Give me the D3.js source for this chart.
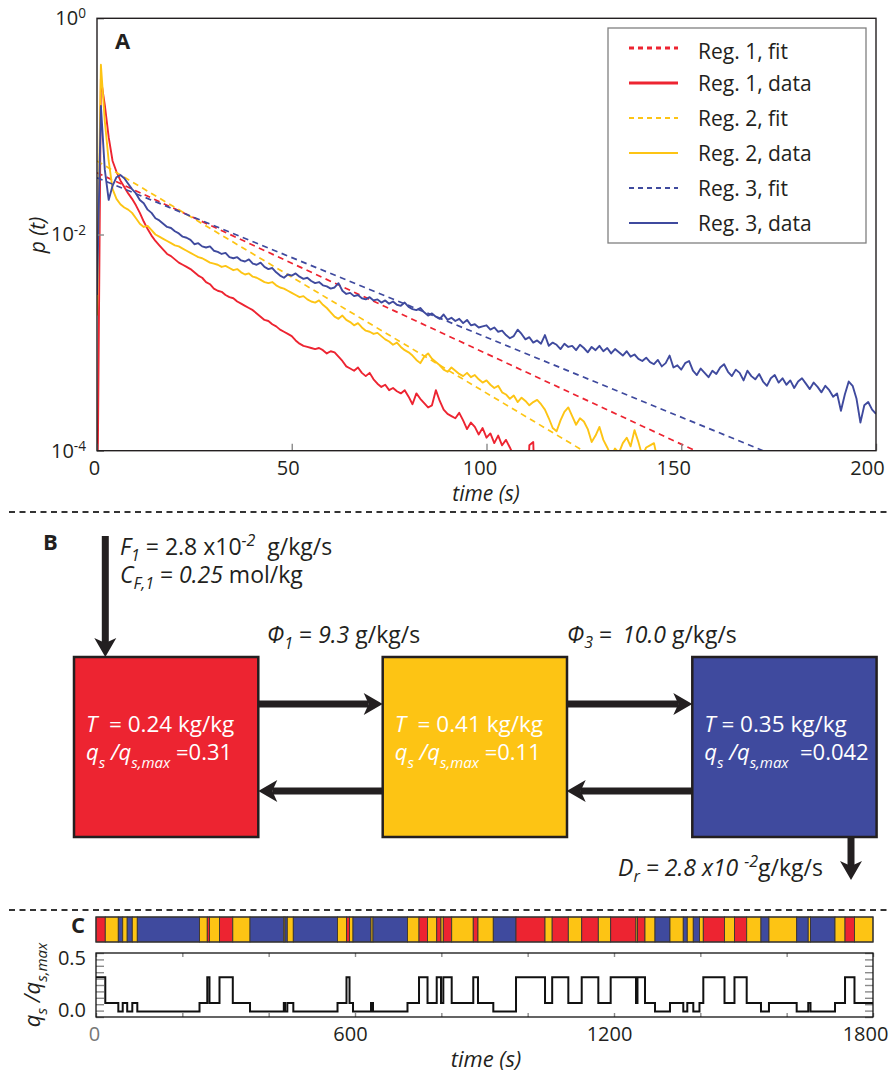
<!DOCTYPE html>
<html><head><meta charset="utf-8">
<script src="https://cdn.jsdelivr.net/npm/d3@7"></script>
<style>
body{margin:0;background:#fff}
svg{display:block}
text{font-family:'Open Sans',sans-serif}
</style></head>
<body><svg id="c" width="891" height="1078"></svg>
<script>
// ---------------- DATA ----------------
// Panel A: log10 p(t), sampled every 1 s starting at t = 0
const redLog = [-5,-0.56,-0.80,-1.10,-1.32,-1.42,-1.50,-1.56,-1.62,-1.67,
-1.73,-1.80,-1.88,-1.95,-2.01,-2.06,-2.10,-2.14,-2.18,-2.20,
-2.23,-2.26,-2.28,-2.30,-2.32,-2.35,-2.38,-2.40,-2.44,-2.46,
-2.50,-2.52,-2.53,-2.56,-2.58,-2.59,-2.62,-2.64,-2.66,-2.68,
-2.70,-2.73,-2.76,-2.79,-2.80,-2.83,-2.85,-2.88,-2.90,-2.92,
-2.94,-2.98,-3.01,-3.03,-3.04,-3.05,-3.06,-3.05,-3.07,-3.10,
-3.08,-3.09,-3.13,-3.17,-3.22,-3.24,-3.26,-3.23,-3.28,-3.31,
-3.28,-3.34,-3.38,-3.41,-3.39,-3.44,-3.42,-3.45,-3.47,-3.44,
-3.50,-3.57,-3.47,-3.52,-3.56,-3.60,-3.58,-3.44,-3.54,-3.62,
-3.66,-3.68,-3.70,-3.65,-3.72,-3.80,-3.74,-3.78,-3.85,-3.79,
-3.88,-3.84,-3.93,-3.86,-3.95,-3.90,-3.97,-4.05,-4.3,-5,
-5,-3.95,-3.92,-5];
const yellowLog = [-2.75,-0.43,-0.95,-1.32,-1.58,-1.67,-1.72,-1.75,-1.77,-1.80,
-1.85,-1.90,-1.93,-1.92,-1.96,-2.00,-2.02,-2.04,-2.06,-2.08,
-2.10,-2.11,-2.13,-2.15,-2.17,-2.19,-2.21,-2.22,-2.24,-2.26,
-2.27,-2.28,-2.30,-2.29,-2.31,-2.33,-2.32,-2.35,-2.37,-2.36,
-2.39,-2.40,-2.42,-2.44,-2.45,-2.44,-2.47,-2.49,-2.50,-2.52,
-2.54,-2.56,-2.58,-2.57,-2.60,-2.62,-2.63,-2.61,-2.65,-2.68,
-2.72,-2.76,-2.78,-2.75,-2.79,-2.81,-2.84,-2.82,-2.86,-2.89,
-2.90,-2.92,-2.91,-2.94,-2.97,-2.99,-3.02,-3.00,-3.04,-3.07,
-3.09,-3.12,-3.16,-3.19,-3.13,-3.10,-3.15,-3.18,-3.21,-3.25,
-3.27,-3.23,-3.26,-3.29,-3.31,-3.28,-3.32,-3.30,-3.34,-3.37,
-3.35,-3.39,-3.42,-3.40,-3.46,-3.48,-3.52,-3.49,-3.55,-3.51,
-3.54,-3.58,-3.55,-3.53,-3.57,-3.62,-3.70,-3.79,-3.82,-3.72,
-3.64,-3.60,-3.68,-3.76,-3.70,-3.73,-3.80,-3.92,-3.86,-3.78,
-3.90,-3.97,-4.05,-3.98,-4.02,-3.93,-3.88,-3.96,-3.81,-3.92,
-4.05,-3.97,-3.95,-3.93,-4.1,-5];
const blueLog = [-2.56,-0.81,-1.40,-1.68,-1.55,-1.47,-1.45,-1.48,-1.53,-1.58,
-1.62,-1.68,-1.71,-1.77,-1.80,-1.85,-1.87,-1.90,-1.93,-1.94,
-1.97,-1.99,-2.02,-2.03,-2.05,-2.09,-2.08,-2.11,-2.12,-2.11,
-2.15,-2.16,-2.18,-2.17,-2.21,-2.22,-2.21,-2.24,-2.25,-2.23,
-2.27,-2.28,-2.26,-2.30,-2.32,-2.31,-2.35,-2.38,-2.40,-2.37,
-2.38,-2.36,-2.39,-2.41,-2.40,-2.43,-2.45,-2.44,-2.47,-2.48,
-2.50,-2.49,-2.45,-2.52,-2.55,-2.54,-2.57,-2.56,-2.59,-2.60,
-2.58,-2.61,-2.60,-2.63,-2.61,-2.64,-2.62,-2.65,-2.66,-2.63,
-2.67,-2.69,-2.70,-2.68,-2.72,-2.75,-2.73,-2.76,-2.78,-2.74,
-2.79,-2.77,-2.80,-2.78,-2.82,-2.79,-2.84,-2.83,-2.86,-2.85,
-2.84,-2.88,-2.86,-2.90,-2.89,-2.93,-2.96,-2.94,-2.88,-2.92,
-2.97,-2.95,-3.00,-2.98,-3.01,-2.93,-3.03,-3.00,-3.02,-3.06,
-3.01,-3.04,-3.03,-3.07,-3.02,-3.05,-3.09,-3.04,-3.07,-3.03,
-3.08,-3.05,-3.10,-3.06,-3.09,-3.12,-3.08,-3.13,-3.11,-3.15,
-3.17,-3.14,-3.18,-3.20,-3.16,-3.22,-3.19,-3.12,-3.23,-3.21,
-3.25,-3.19,-3.17,-3.26,-3.30,-3.24,-3.28,-3.32,-3.26,-3.29,
-3.23,-3.20,-3.27,-3.31,-3.25,-3.28,-3.35,-3.26,-3.31,-3.34,
-3.29,-3.36,-3.40,-3.33,-3.30,-3.37,-3.33,-3.39,-3.35,-3.42,
-3.36,-3.33,-3.38,-3.43,-3.37,-3.41,-3.46,-3.40,-3.44,-3.50,
-3.47,-3.63,-3.48,-3.36,-3.40,-3.52,-3.74,-3.58,-3.55,-3.62,
-3.66];
// exponential fits: [time, p] end points
const fitRed = [[0, 0.0373], [153.6, 1e-4]];
const fitYellow = [[0, 0.0479], [124.8, 1e-4]];
const fitBlue = [[0, 0.0335], [171, 1e-4]];
const legendLabels = ["Reg. 1, fit","Reg. 1, data","Reg. 2, fit","Reg. 2, data","Reg. 3, fit","Reg. 3, data"];
const xTicksA = [0, 50, 100, 150, 200];
const yTicksA = [1, 1e-2, 1e-4];

// Panel B
const boxT = ["0.24", "0.41", "0.35"];
const boxQ = ["0.31", "0.11", "0.042"];

// Panel C: regime sequence (start time in s, regime id)
const regimeStart = [0,21.5,51.7,61.9,72.3,84.1,95.7,239.8,257.8,262.9,286.1,316.9,356.8,435.1,437.8,443.2,457.1,559.5,580.3,587.3,595.4,637.1,641.7,721.6,748.3,768,789.3,799.2,804.6,824,874,884.9,920.4,973,1040.2,1056.8,1094.2,1125.2,1163.7,1192.3,1251,1254.4,1271.8,1295,1329.7,1360.5,1369.8,1383.7,1398,1406.9,1456,1479.1,1507.4,1540.5,1559,1623.2,1650,1655.2,1712,1735.2,1757.1];
const regimeId = [1,2,3,2,3,2,3,2,1,2,1,2,3,2,3,2,3,2,1,2,3,2,3,2,1,2,1,2,1,2,1,2,3,1,2,1,2,1,2,1,2,1,2,3,2,3,2,3,2,1,2,1,2,3,2,3,2,3,2,1,2];
const regimeQ = {1: 0.31, 2: 0.11, 3: 0.042};
const xTicksC = [0,200,400,600,800,1000,1200,1400,1600,1800];
const xLabelsC = [0, 600, 1200, 1800];
const yTicksC = [0,0.05,0.1,0.15,0.2,0.25,0.3,0.35,0.4,0.45,0.5];

// ---------------- DRAW ----------------
const INK = "#231F20";
const COL = {1: "#ED2431", 2: "#FDC414", 3: "#3F4A9E"};
const svg = d3.select("#c");

function rich(parent, x, y, parts, opts = {}) {
  const t = parent.append("text").attr("x", x).attr("y", y)
    .attr("font-size", opts.size || 21).attr("fill", opts.fill || INK)
    .style("white-space", "pre");
  if (opts.anchor) t.attr("text-anchor", opts.anchor);
  if (opts.transform) t.attr("transform", opts.transform);
  let cur = 0;
  parts.forEach(p => {
    const s = t.append("tspan").text(p.t);
    const target = p.sub ? p.sub : (p.sup ? -p.sup : 0);
    if (target - cur !== 0) s.attr("dy", target - cur);
    cur = target;
    if (p.i) s.attr("font-style", "italic");
    if (p.fs) s.attr("font-size", p.fs);
    if (p.dx) s.attr("dx", p.dx);
  });
  return t;
}

function arrow(g, x1, y1, x2, y2, w = 7, hl = 19, hw = 22, notch = 5) {
  const L = Math.hypot(x2 - x1, y2 - y1);
  const ux = (x2 - x1) / L, uy = (y2 - y1) / L;
  const nx = -uy, ny = ux;
  const bx = x2 - ux * hl, by = y2 - uy * hl;
  g.append("line").attr("x1", x1).attr("y1", y1)
    .attr("x2", bx + ux * notch).attr("y2", by + uy * notch)
    .attr("stroke", INK).attr("stroke-width", w);
  g.append("path").attr("d",
    `M${x2},${y2}L${bx + nx * hw / 2},${by + ny * hw / 2}L${bx + ux * notch},${by + uy * notch}L${bx - nx * hw / 2},${by - ny * hw / 2}Z`)
    .attr("fill", INK);
}

// ===== Panel A =====
const xA = d3.scaleLinear().domain([0, 200]).range([97, 876]);
const yA = d3.scaleLog().domain([1e-4, 1]).range([450.7, 18.3]);
const gA = svg.append("g");
gA.append("clipPath").attr("id", "clipA").append("rect")
  .attr("x", 97).attr("y", 18.3).attr("width", 779).attr("height", 432.4);
const plotA = gA.append("g").attr("clip-path", "url(#clipA)");
const lineA = d3.line().x(d => xA(d[0])).y(d => yA(d[1]));
const series = [
  {fit: fitRed, data: redLog, c: COL[1]},
  {fit: fitYellow, data: yellowLog, c: COL[2]},
  {fit: fitBlue, data: blueLog, c: COL[3]}
];
series.forEach(s => {
  plotA.append("path").attr("d", lineA(s.fit)).attr("fill", "none")
    .attr("stroke", s.c).attr("stroke-width", 1.7).attr("stroke-dasharray", "6,4.5");
  plotA.append("path").attr("d", lineA(s.data.map((v, i) => [i, Math.pow(10, v)])))
    .attr("fill", "none").attr("stroke", s.c).attr("stroke-width", 1.9)
    .attr("stroke-linejoin", "round");
});

function styleAxis(g, size) {
  g.attr("font-family", null).attr("font-size", null);
  g.select(".domain").remove();
  g.selectAll(".tick line").attr("stroke", "#8a8a8a").attr("stroke-width", 1.4);
  g.selectAll(".tick text").attr("fill", INK).attr("font-size", size)
    .style("font-family", "'Open Sans',sans-serif");
}
const labelShiftA = {0: -3, 50: -4, 100: -7, 150: -8, 200: -9};
const axBA = gA.append("g").attr("transform", "translate(0,450.7)")
  .call(d3.axisBottom(xA).tickValues(xTicksA).tickSizeInner(-7).tickSizeOuter(0).tickPadding(10));
styleAxis(axBA, 20);
axBA.selectAll(".tick text").attr("dx", d => labelShiftA[d]);
const axLA = gA.append("g").attr("transform", "translate(97,0)")
  .call(d3.axisLeft(yA).tickValues(yTicksA).tickSizeInner(-7).tickSizeOuter(0).tickPadding(11).tickFormat(() => ""));
styleAxis(axLA, 20);
axLA.selectAll(".tick text").each(function(d) {
  const t = d3.select(this);
  t.append("tspan").text("10");
  t.append("tspan").attr("dy", "-0.5em").attr("font-size", "0.68em").text(String(Math.round(Math.log10(d))));
});
gA.append("rect").attr("x", 97).attr("y", 18.3).attr("width", 779).attr("height", 432.4)
  .attr("fill", "none").attr("stroke", INK).attr("stroke-width", 1.4);

gA.append("text").attr("x", 115).attr("y", 49).attr("font-size", 22).attr("font-weight", "bold")
  .attr("fill", INK).text("A");
gA.append("text").attr("transform", "translate(45,235) rotate(-90)").attr("text-anchor", "middle")
  .attr("font-size", 21).attr("font-style", "italic").attr("fill", INK).text("p (t)");
gA.append("text").attr("x", 486).attr("y", 501).attr("text-anchor", "middle")
  .attr("font-size", 21).attr("font-style", "italic").attr("fill", INK).text("time (s)");

// legend
const lg = gA.append("g");
lg.append("rect").attr("x", 608).attr("y", 28).attr("width", 258).attr("height", 215)
  .attr("fill", "#fff").attr("stroke", "#808080").attr("stroke-width", 1.3);
const legRowY = [48, 83, 118, 153, 188, 223];
const legTextY = [51.5, 83, 118, 153, 188, 223];
legendLabels.forEach((lab, i) => {
  const reg = Math.floor(i / 2) + 1;
  const dashed = i % 2 === 0;
  lg.append("line").attr("x1", 629).attr("x2", 678).attr("y1", legRowY[i]).attr("y2", legRowY[i])
    .attr("stroke", COL[reg]).attr("stroke-width", reg === 1 ? 3 : 2.2)
    .attr("stroke-dasharray", dashed ? "5,4" : null);
  lg.append("text").attr("x", 698).attr("y", legTextY[i] + 7.5).attr("font-size", 21)
    .attr("fill", INK).text(lab);
});

// separators
[512, 910].forEach(y => {
  svg.append("line").attr("x1", 9).attr("x2", 891).attr("y1", y).attr("y2", y)
    .attr("stroke", "#333").attr("stroke-width", 2).attr("stroke-dasharray", "6,4.5");
});

// ===== Panel B =====
const gB = svg.append("g");
gB.append("text").attr("x", 43).attr("y", 550).attr("font-size", 22).attr("font-weight", "bold")
  .attr("fill", INK).text("B");
const boxX = [74, 382.7, 692.3];
const boxW = 184.3;
boxX.forEach((x, i) => {
  gB.append("rect").attr("x", x).attr("y", 657).attr("width", boxW).attr("height", 180)
    .attr("fill", COL[i + 1]).attr("stroke", INK).attr("stroke-width", 2.5);
  const tx = x + 12;
  rich(gB, tx, 732, [{t: "T", i: true}, {t: (i === 2 ? " = " : "  = ") + boxT[i] + " kg/kg"}], {size: 22.5, fill: "#fff"});
  rich(gB, tx, 760, [{t: "q", i: true}, {t: "s", i: true, sub: 8, fs: 15}, {t: " /q", i: true},
    {t: "s,max", i: true, sub: 8, fs: 15}, {t: (i === 2 ? "  =" : " =") + boxQ[i]}], {size: 22, fill: "#fff"});
});
arrow(gB, 105.3, 536, 105.3, 657);
arrow(gB, 258.3, 704, 382.7, 704);
arrow(gB, 566.7, 704, 692.3, 704);
arrow(gB, 382.7, 791, 258.3, 791);
arrow(gB, 692.3, 791, 566.7, 791);
arrow(gB, 851, 837, 851, 880);

rich(gB, 120, 555, [{t: "F", i: true}, {t: "1", i: true, sub: 6, fs: 16}, {t: " = 2.8 x10"},
  {t: "-2", i: true, sup: 9, fs: 16}, {t: "  g/kg/s"}], {size: 23});
rich(gB, 120, 583, [{t: "C", i: true}, {t: "F,1", i: true, sub: 6, fs: 16}, {t: " = "},
  {t: "0.25", i: true}, {t: " mol/kg"}], {size: 23});
rich(gB, 267, 643, [{t: "Φ", i: true}, {t: "1", i: true, sub: 6, fs: 16}, {t: " = "},
  {t: "9.3", i: true}, {t: " g/kg/s"}], {size: 23});
rich(gB, 567, 643, [{t: "Φ", i: true}, {t: "3", i: true, sub: 5, fs: 16}, {t: " = "},
  {t: "10.0", i: true, dx: 4}, {t: " g/kg/s"}], {size: 23});
rich(gB, 618, 876, [{t: "D", i: true}, {t: "r", i: true, sub: 6, fs: 16}, {t: " = 2.8 x10 ", i: true},
  {t: "-2", i: true, sup: 9, fs: 16}, {t: "g/kg/s"}], {size: 23});

// ===== Panel C =====
const gC = svg.append("g");
const xC = d3.scaleLinear().domain([0, 1800]).range([96, 873]);
const yC = d3.scaleLinear().domain([0, 0.5]).range([1017, 953]);
gC.append("text").attr("x", 71).attr("y", 933).attr("font-size", 22).attr("font-weight", "bold")
  .attr("fill", INK).text("C");
const segs = regimeStart.map((s, i) => ({s, e: i < regimeStart.length - 1 ? regimeStart[i + 1] : 1800, r: regimeId[i]}));
gC.selectAll("rect.seg").data(segs).join("rect").attr("class", "seg")
  .attr("x", d => xC(d.s)).attr("width", d => xC(d.e) - xC(d.s))
  .attr("y", 917).attr("height", 25)
  .attr("fill", d => COL[d.r]).attr("stroke", "#3b3530").attr("stroke-width", 0.9);
gC.append("rect").attr("x", 96).attr("y", 917).attr("width", 777).attr("height", 25)
  .attr("fill", "none").attr("stroke", "#333").attr("stroke-width", 1.2);

const stepPts = segs.map(d => [d.s, regimeQ[d.r]]);
stepPts.push([1800, regimeQ[regimeId[regimeId.length - 1]]]);
gC.append("path").attr("d", d3.line().curve(d3.curveStepAfter).x(d => xC(d[0])).y(d => yC(d[1]))(stepPts))
  .attr("fill", "none").attr("stroke", "#111").attr("stroke-width", 2);

const labelShiftC = {0: -2, 600: -5, 1200: -5, 1800: -8};
const axBC = gC.append("g").attr("transform", "translate(0,1017)")
  .call(d3.axisBottom(xC).tickValues(xTicksC).tickSizeInner(-4).tickSizeOuter(0).tickPadding(10)
    .tickFormat(d => xLabelsC.includes(d) ? d : ""));
styleAxis(axBC, 20);
axBC.selectAll(".tick text").attr("dx", d => labelShiftC[d] || 0);
axBC.selectAll(".tick text").filter(d => d === 0).attr("fill", "#777");
const axTC = gC.append("g").attr("transform", "translate(0,953)")
  .call(d3.axisTop(xC).tickValues(xTicksC).tickSizeInner(-4).tickSizeOuter(0).tickFormat(""));
styleAxis(axTC, 20);
const axLC = gC.append("g").attr("transform", "translate(96,0)")
  .call(d3.axisLeft(yC).tickValues(yTicksC).tickSizeInner(-8).tickSizeOuter(0).tickPadding(10)
    .tickFormat(d => (d === 0 || d === 0.5) ? d3.format(".1f")(d) : ""));
styleAxis(axLC, 20);
axLC.selectAll(".tick text").attr("dy", d => d === 0 ? "-0.05em" : "0.55em");
const axRC = gC.append("g").attr("transform", "translate(873,0)")
  .call(d3.axisRight(yC).tickValues(yTicksC).tickSizeInner(-8).tickSizeOuter(0).tickFormat(""));
styleAxis(axRC, 20);
gC.append("rect").attr("x", 96).attr("y", 953).attr("width", 777).attr("height", 64)
  .attr("fill", "none").attr("stroke", "#111").attr("stroke-width", 1.3);

rich(gC, 0, 0, [{t: "q", i: true}, {t: "s", i: true, sub: 7, fs: 15}, {t: " /q", i: true},
  {t: "s,max", i: true, sub: 7, fs: 15}], {size: 22, anchor: "middle", transform: "translate(40,985) rotate(-90)"});
gC.append("text").attr("x", 486).attr("y", 1067).attr("text-anchor", "middle")
  .attr("font-size", 22).attr("font-style", "italic").attr("fill", INK).text("time (s)");
</script>
</body></html>
